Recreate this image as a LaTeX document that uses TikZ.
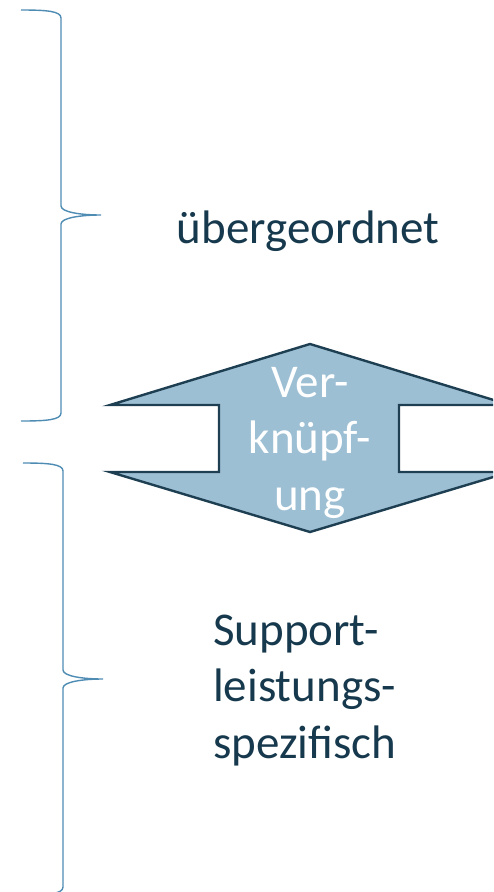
\documentclass[tikz,border=0pt]{standalone}
\usepackage{fontspec}
\setmainfont{Carlito}
\usepackage{tikz}
\usetikzlibrary{calc,positioning}
\definecolor{klammerblau}{RGB}{78,140,180}
\definecolor{pfeilfill}{RGB}{157,191,212}
\definecolor{pfeilrand}{RGB}{30,63,82}
\definecolor{textblau}{RGB}{23,57,77}
\tikzset{
    klammer/.style={draw=klammerblau, line width=1.4pt},
    pfeil/.style={fill=pfeilfill, draw=pfeilrand, line width=2.4pt, line join=miter},
    bigtext/.style={
        inner sep=0pt,
        font={\fontsize{47pt}{56.5pt}\selectfont},
        text=textblau
    },
    pfeiltext/.style={bigtext, text=white, text width=200pt, align=center},
}

\begin{document}
\begin{tikzpicture}[x=1pt, y=-1pt]
\useasboundingbox (0,0) rectangle (493,892);
\clip (0,0) rectangle (493,892);
% obere Klammer
\draw[klammer] (21,10) .. controls (46,10) and (61,11) .. (61,18) -- (61,206)
    .. controls (61,212) and (80,215) .. (101,215)
    .. controls (80,215) and (61,218) .. (61,224) -- (61,413)
    .. controls (61,420) and (46,421) .. (21,421);
% untere Klammer
\draw[klammer] (23,463) .. controls (48,463) and (63,464) .. (63,471) -- (63,670)
    .. controls (63,676) and (82,679) .. (103,679)
    .. controls (82,679) and (63,682) .. (63,688) -- (63,887)
    .. controls (63,894) and (48,895) .. (23,895);
% Doppelpfeil
\draw[pfeil] (310,344) -- (510,405) -- (399,405) -- (399,472) -- (510,472)
    -- (310,532) -- (110,472) -- (219,472) -- (219,405) -- (110,405) -- cycle;
\node[bigtext, anchor=base] (ueber) at (308,243) {übergeordnet};
\node[pfeiltext, anchor=base] (verk) at (310,397) {Ver-\\knüpf-\\ung};
\node[bigtext, anchor=base west, text width=200pt, align=left] (support) at (213,645)
    {Support-\\leistungs-\\spezifisch};
\end{tikzpicture}
\end{document}
